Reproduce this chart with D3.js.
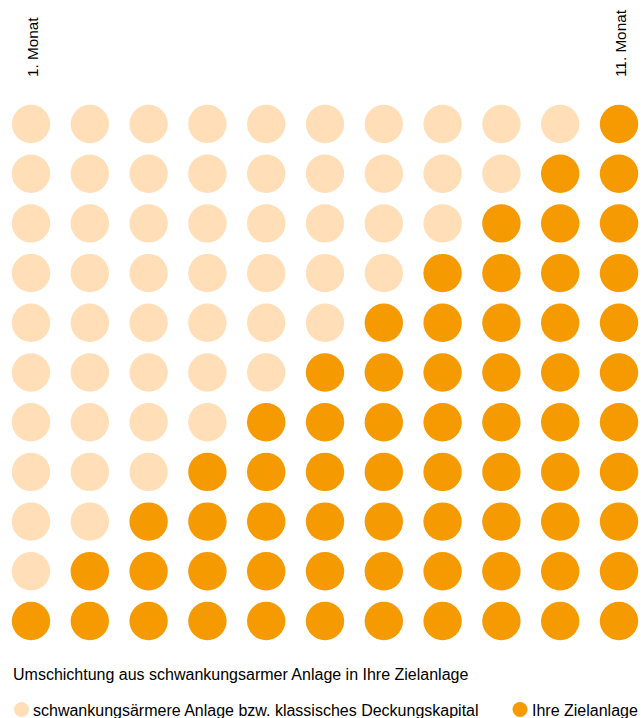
<!DOCTYPE html>
<html><head><meta charset="utf-8">
<script src="https://cdn.jsdelivr.net/npm/d3@7"></script>
<style>body{margin:0;background:#fff;}svg{display:block;font-family:"Liberation Sans",Arial,sans-serif;}</style>
</head><body>
<script>
const months = ["1. Monat","2. Monat","3. Monat","4. Monat","5. Monat","6. Monat","7. Monat","8. Monat","9. Monat","10. Monat","11. Monat"];
const labeledMonths = ["1. Monat","11. Monat"];
const targetUnits = [1,2,3,4,5,6,7,8,9,10,11];
const totalUnits = 11;
const seriesNames = ["schwankungsärmere Anlage bzw. klassisches Deckungskapital","Ihre Zielanlage"];
const title = "Umschichtung aus schwankungsarmer Anlage in Ihre Zielanlage";
const colors = ["#FFDEB8","#F59A00"];

const W=644,H=718;
const svg=d3.select("body").append("svg").attr("width",W).attr("height",H);
const x=d3.scalePoint().domain(months).range([31,619]);
const y=d3.scalePoint().domain(d3.range(totalUnits)).range([621,124]);
const cells=[];
months.forEach((m,i)=>{for(let r=0;r<totalUnits;r++)cells.push({m,r,t:r<targetUnits[i]?1:0});});
svg.append("g").selectAll("circle").data(cells).join("circle")
  .attr("cx",d=>x(d.m)).attr("cy",d=>y(d.r)).attr("r",19.2)
  .attr("fill",d=>colors[d.t]);
svg.append("g").selectAll("text").data(labeledMonths).join("text")
  .attr("transform",d=>`translate(${x(d)+6.5},77) rotate(-90)`)
  .attr("font-size",15.3).attr("fill","#000").text(d=>d);
svg.append("text").attr("x",13).attr("y",680).attr("font-size",16).text(title);
const leg=[{x:21.5,tx:33},{x:520,tx:532}];
leg.forEach((l,i)=>{
  svg.append("circle").attr("cx",l.x).attr("cy",709.5).attr("r",7.5).attr("fill",colors[i]);
  svg.append("text").attr("x",l.tx).attr("y",715.5).attr("font-size",16).text(seriesNames[i]);
});
</script>
</body></html>
